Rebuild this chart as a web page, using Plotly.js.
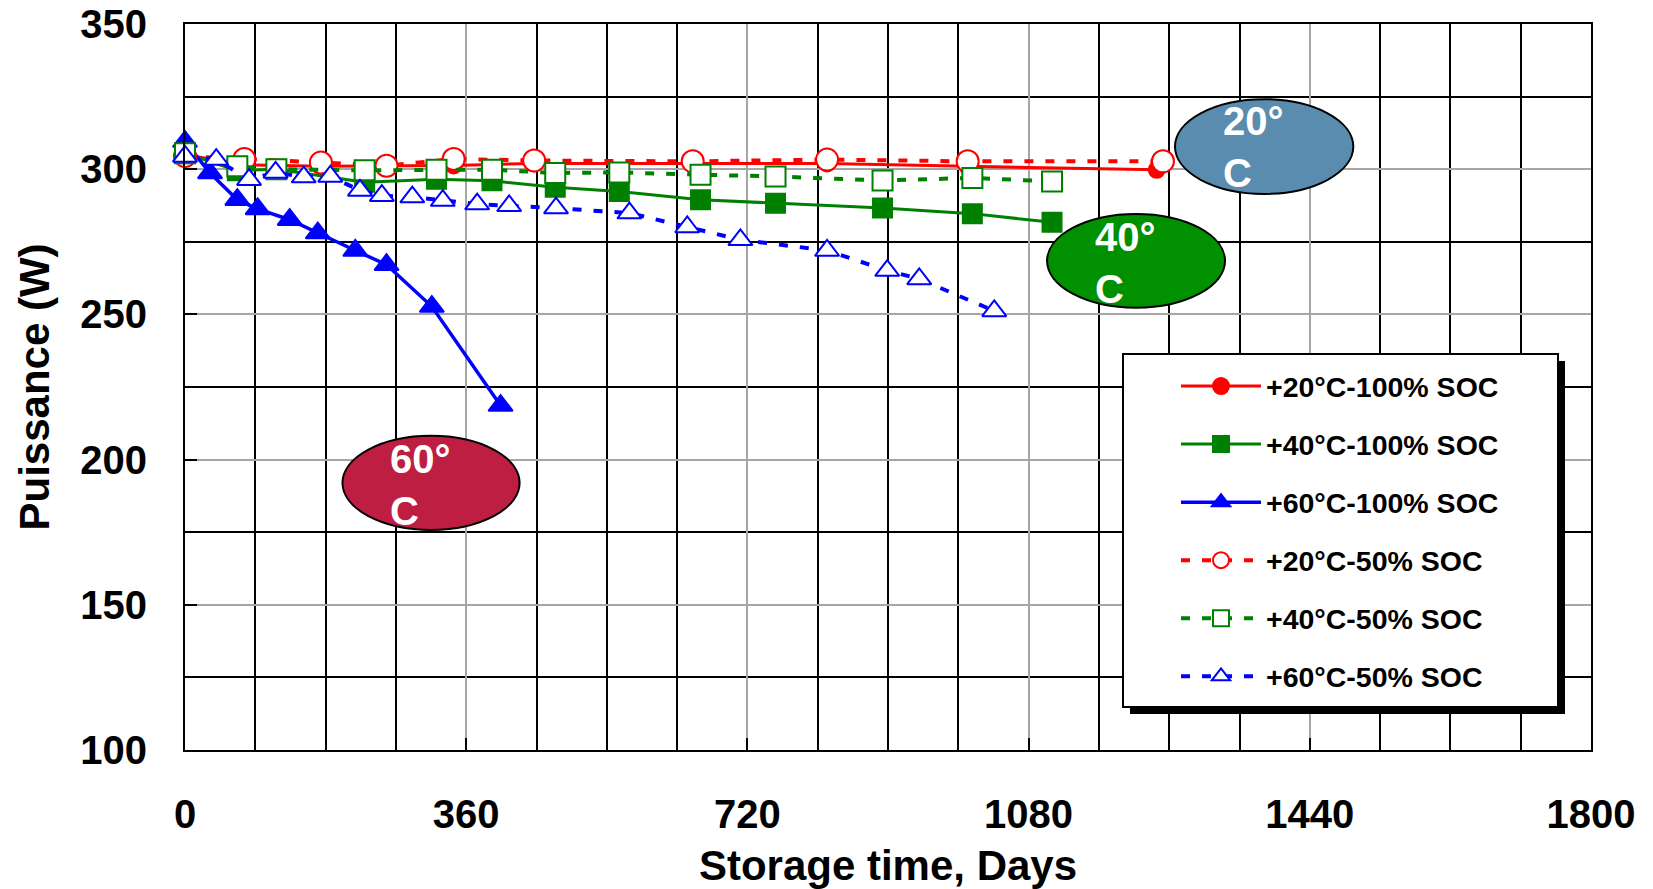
<!DOCTYPE html>
<html>
<head>
<meta charset="utf-8">
<script src="https://cdn.plot.ly/plotly-3.0.1.min.js"></script>
<style>html,body{margin:0;padding:0;background:#fff;}#chart{width:1653px;height:889px;}</style>
</head>
<body>
<div id="chart"></div>
<script>
// ---- data ----
const days20_100 = [0, 76, 174, 258, 344, 447, 650, 822, 1002, 1244];
const pow20_100  = [305, 301.5, 301.0, 301.2, 301.3, 302.0, 302.0, 302.0, 301.0, 299.8];

const days40_100 = [0, 67, 117, 230, 322, 393, 474, 556, 660, 756, 893, 1008, 1110];
const pow40_100  = [305.5, 299.5, 300, 295.5, 296.5, 296, 293.8, 292.3, 289.5, 288.3, 286.6, 284.7, 281.7];

const days60_100 = [0, 32, 67, 93, 134, 170, 218, 258, 316, 404];
const pow60_100  = [309.5, 298.7, 289.5, 286.3, 282.6, 278, 272, 267.1, 252.7, 218.6];

const days20_50 = [0, 76, 174, 258, 344, 447, 650, 822, 1002, 1252];
const pow20_50  = [304.5, 303.5, 302.3, 301.2, 303.5, 303, 302.7, 303.3, 302.7, 302.7];

const days40_50 = [0, 67, 117, 230, 322, 393, 474, 556, 660, 756, 893, 1008, 1110];
const pow40_50  = [305.5, 301, 300, 299.6, 299.8, 299.8, 298.7, 298.9, 298.1, 297.5, 296.1, 297, 295.8];

const days60_50 = [0, 40, 82, 116, 152, 186, 224, 252, 291, 330, 374, 415, 475, 569, 643, 711, 822, 899, 940, 1036];
const pow60_50  = [304.4, 303.3, 296.4, 298.9, 297.3, 297.5, 292.7, 290.9, 290.4, 289.2, 288, 287.4, 286.6, 284.9, 280.1, 275.7, 272, 265.1, 262.2, 251.2];

const seriesNames = ['+20°C-100% SOC', '+40°C-100% SOC', '+60°C-100% SOC',
                     '+20°C-50% SOC', '+40°C-50% SOC', '+60°C-50% SOC'];
const xTickVals = [0, 360, 720, 1080, 1440, 1800];
const yTickVals = [100, 150, 200, 250, 300, 350];
const badgeLabels = ['20°<br>C', '40°<br>C', '60°<br>C'];

// ---- styling ----
const RED = '#FF0000', GREEN = '#008000', BLUE = '#0000FF';
const FONT = 'Arial, "Liberation Sans", sans-serif';
const DASH = '9px,12px';

function tr(x, y, name, color, symbol, filled, dash, width, size, grp) {
  return {
    x: x, y: y, name: name, type: 'scatter', mode: 'lines+markers',
    legendgroup: grp, cliponaxis: false,
    line: {color: color, width: width, dash: dash},
    marker: {symbol: symbol, size: size, color: filled ? color : '#FFFFFF',
             line: {color: color, width: 2}}
  };
}

const data = [
  tr(days20_100, pow20_100, seriesNames[0], RED, 'circle', true, 'solid', 3, 16, 'g1'),
  tr(days40_100, pow40_100, seriesNames[1], GREEN, 'square', true, 'solid', 3, 19, 'g2'),
  tr(days60_100, pow60_100, seriesNames[2], BLUE, 'triangle-up', true, 'solid', 3.5, 21, 'g3'),
  tr(days20_50, pow20_50, seriesNames[3], RED, 'circle', false, DASH, 4, 22, 'g4'),
  tr(days40_50, pow40_50, seriesNames[4], GREEN, 'square', false, DASH, 4, 20, 'g5'),
  tr(days60_50, pow60_50, seriesNames[5], BLUE, 'triangle-up', false, DASH, 4, 21, 'g6')
];

const W = 1653, H = 889;
const L = 185, R = 1591, T = 24, B = 750;
const px2paperX = p => (p - L) / (R - L);
const px2paperY = p => (B - p) / (B - T);

const shapes = [
  // legend shadow & frame
  {type: 'rect', xref: 'paper', yref: 'paper', layer: 'above',
   x0: px2paperX(1130), x1: px2paperX(1565), y0: px2paperY(714), y1: px2paperY(361),
   fillcolor: '#000000', line: {width: 0}},
  {type: 'rect', xref: 'paper', yref: 'paper', layer: 'above',
   x0: px2paperX(1123), x1: px2paperX(1558), y0: px2paperY(707), y1: px2paperY(354),
   fillcolor: '#FFFFFF', line: {color: '#000000', width: 2}},
  // temperature badges
  {type: 'circle', xref: 'x', yref: 'y', layer: 'above',
   x0: 1267.4, x1: 1495.7, y0: 291.5, y1: 324.1,
   fillcolor: '#598CAE', line: {color: '#000000', width: 2}},
  {type: 'circle', xref: 'x', yref: 'y', layer: 'above',
   x0: 1103.6, x1: 1331.5, y0: 252.3, y1: 284.6,
   fillcolor: '#009000', line: {color: '#000000', width: 2}},
  {type: 'circle', xref: 'x', yref: 'y', layer: 'above',
   x0: 201.6, x1: 428.4, y0: 175.8, y1: 208.2,
   fillcolor: '#BE1E41', line: {color: '#000000', width: 2}}
];

const badgeFont = {family: FONT, size: 40, color: '#FFFFFF', weight: 'bold'};
const annotations = [
  {x: 1326, y: 307.7, text: badgeLabels[0]},
  {x: 1162.5, y: 267.8, text: badgeLabels[1]},
  {x: 260, y: 191.3, text: badgeLabels[2]}
].map(a => Object.assign({xref: 'x', yref: 'y', xanchor: 'left', yanchor: 'middle',
  align: 'left', showarrow: false, font: badgeFont}, a));

const axisCommon = {
  showline: true, linecolor: '#000000', linewidth: 2, mirror: true,
  ticks: 'inside', ticklen: 12, tickwidth: 2, tickcolor: '#000000',
  showgrid: true, gridcolor: '#A6A6A6', gridwidth: 2, zeroline: false,
  tickfont: {family: FONT, size: 40, color: '#000000', weight: 'bold'}
};

const layout = {
  width: W, height: H,
  margin: {l: L, r: W - R, t: T, b: H - B, pad: 0},
  paper_bgcolor: '#FFFFFF', plot_bgcolor: '#FFFFFF',
  font: {family: FONT, color: '#000000'},
  showlegend: true,
  legend: {
    x: px2paperX(1176), y: px2paperY(361), xanchor: 'left', yanchor: 'top',
    bgcolor: 'rgba(0,0,0,0)', borderwidth: 0,
    font: {family: FONT, size: 28.5, color: '#000000', weight: 'bold'},
    tracegroupgap: 18, traceorder: 'grouped', itemwidth: 80
  },
  xaxis: Object.assign({}, axisCommon, {
    range: [0, 1800], tickvals: xTickVals, ticktext: xTickVals.map(String),
    ticklabelstandoff: 28,
    minor: {dtick: 90, tick0: 0, showgrid: true, gridcolor: '#000000', gridwidth: 2},
    title: {text: 'Storage time, Days', standoff: 26,
            font: {family: FONT, size: 42, color: '#000000', weight: 'bold'}}
  }),
  yaxis: Object.assign({}, axisCommon, {
    range: [100, 350], tickvals: yTickVals, ticktext: yTickVals.map(String),
    ticklabelstandoff: 28,
    minor: {dtick: 25, tick0: 100, showgrid: true, gridcolor: '#000000', gridwidth: 2},
    title: {text: 'Puissance (W)', standoff: 18,
            font: {family: FONT, size: 42, color: '#000000', weight: 'bold'}}
  }),
  shapes: shapes,
  annotations: annotations
};

Plotly.newPlot('chart', data, layout, {displayModeBar: false, staticPlot: true});
</script>
</body>
</html>
